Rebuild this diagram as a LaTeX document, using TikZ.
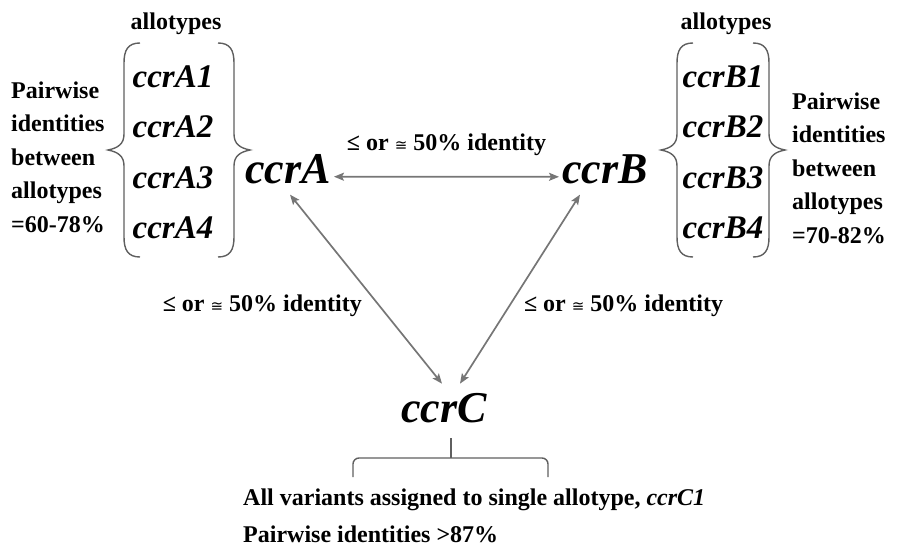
\documentclass[tikz,border=0pt]{standalone}
\usepackage{fontspec}
\setmainfont{Liberation Serif}
\newfontfamily\symfont{DejaVu Sans}
\usetikzlibrary{arrows.meta, positioning}
\definecolor{cArrow}{RGB}{118,118,118}
\definecolor{cBrace}{RGB}{95,95,95}
\newcommand{\simtext}{≤ or {\symfont\mdseries\fontsize{15}{15}\selectfont ≅} 50\% identity}
% vertical curly brace: #1 = x of the ends, #2 = side of the tip (-1 left, 1 right)
\newcommand{\allobrace}[2]{%
  \draw[bracket] (#1,43) .. controls ({#1+12*(#2)},43) and ({#1+16*(#2)},50) .. ({#1+16*(#2)},63)
    -- ({#1+16*(#2)},134) .. controls ({#1+16*(#2)},144) and ({#1+22*(#2)},148) .. ({#1+32*(#2)},150)
    .. controls ({#1+22*(#2)},152) and ({#1+16*(#2)},156) .. ({#1+16*(#2)},166)
    -- ({#1+16*(#2)},237) .. controls ({#1+16*(#2)},250) and ({#1+12*(#2)},257) .. (#1,257);}
\tikzset{
	gene/.style   ={font=\fontsize{44}{50}\selectfont\bfseries\itshape, inner sep=3pt},
	allo/.style   ={font=\fontsize{33}{36}\selectfont\bfseries\itshape, inner sep=0pt},
	hdr/.style    ={font=\fontsize{24}{26}\selectfont\bfseries, inner sep=0pt},
	note/.style   ={font=\fontsize{24}{33.5}\selectfont\bfseries, align=left, inner sep=0pt},
	sim/.style    ={font=\fontsize{24}{26}\selectfont\bfseries, text=black, inner sep=0pt},
	link/.style   ={{Stealth[length=10pt,width=8pt,inset=2pt]}-{Stealth[length=10pt,width=8pt,inset=2pt]}, cArrow, line width=1.7pt},
	bracket/.style={cBrace, line width=1.4pt},
}
\begin{document}
\begin{tikzpicture}[x=1pt, y=-1pt]
			\useasboundingbox (0,0) rectangle (901,551);
			% the three genes
			\node[gene, anchor=base] (ccrA) at (288,183) {ccrA};
			\node[gene, anchor=base] (ccrB) at (605,183) {ccrB};
			\node[gene, anchor=base] (ccrC) at (444,422) {ccrC};
			% allotypes
			\node[hdr, anchor=base] (hdrA) at (176,30) {allotypes};
			\node[hdr, anchor=base] (hdrB) at (726,30) {allotypes};
			\foreach \i/\y in {1/87,2/137,3/188,4/238} {
				\node[allo, anchor=base] (a\i) at (173,\y) {ccrA\i};
				\node[allo, anchor=base] (b\i) at (723,\y) {ccrB\i};
			}
			\allobrace{140}{-1}
			\allobrace{218}{1}
			\allobrace{693}{-1}
			\allobrace{753}{1}
			\node[note, anchor=west] (noteA) at (11,157) {Pairwise\\ identities\\ between\\ allotypes\\ =60-78\%};
			\node[note, anchor=west] (noteB) at (792,168) {Pairwise\\ identities\\ between\\ allotypes\\ =70-82\%};
			% identities between the genes
			\draw[link] ([yshift=-8pt]ccrA.east) -- node[sim, above=20pt] (simAB) {\simtext} ([yshift=-8pt]ccrB.west);
			\draw[link] ([xshift=2pt, yshift=-8pt]ccrA.south) -- node[sim, pos=0.59, left=17pt] (simAC) {\simtext} ([xshift=-2pt, yshift=6pt]ccrC.north);
			\draw[link] ([xshift=-25pt, yshift=-8pt]ccrB.south) -- node[sim, pos=0.59, right=14pt] (simBC) {\simtext} ([xshift=16pt, yshift=6pt]ccrC.north);
			% ccrC
			\draw[bracket] (451,438) -- (451,458);
			\draw[bracket, rounded corners=6pt] (353,477) |- (548,458) -- (548,477);
			\node[note, anchor=base west] (noteC) at (243,505) {All variants assigned to single allotype, \textit{ccrC1}};
			\node[note, anchor=base west] (noteC2) at (243,542) {Pairwise identities >87\%};
		\end{tikzpicture}
\end{document}
